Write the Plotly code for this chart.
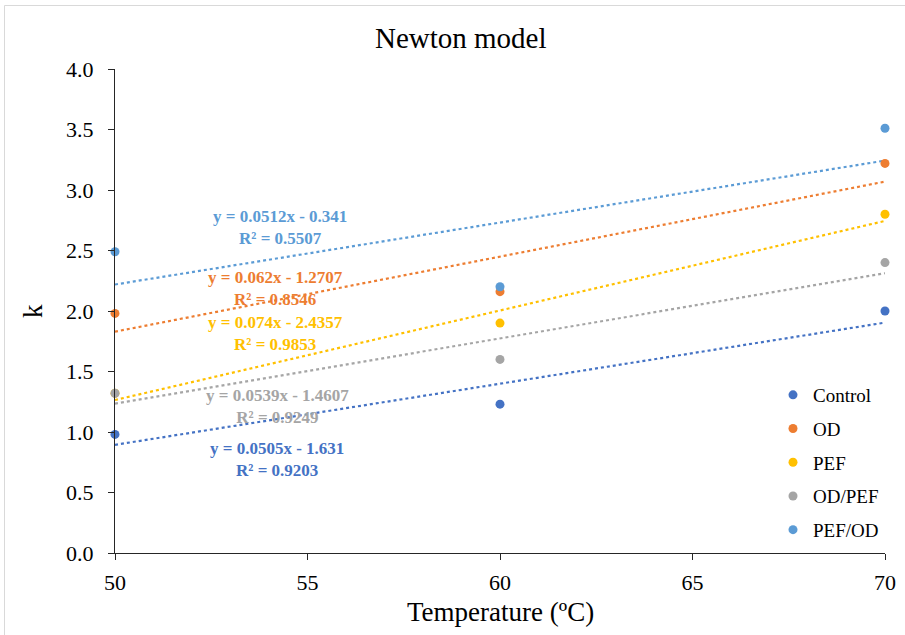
import plotly.graph_objects as go
import numpy as np

# ---- data ----
temperature = [50, 60, 70]
series_names = ["Control", "OD", "PEF", "OD/PEF", "PEF/OD"]
k_control = [0.98, 1.23, 2.00]
k_od = [1.98, 2.16, 3.22]
k_pef = [1.32, 1.90, 2.80]
k_odpef = [1.32, 1.60, 2.40]
k_pefod = [2.49, 2.20, 3.51]
slopes = [0.0505, 0.062, 0.074, 0.0539, 0.0512]
intercepts = [-1.631, -1.2707, -2.4357, -1.4607, -0.341]
r2_values = ["0.9203", "0.8546", "0.9853", "0.9249", "0.5507"]
y_ticks = [0.0, 0.5, 1.0, 1.5, 2.0, 2.5, 3.0, 3.5, 4.0]
x_ticks = [50, 55, 60, 65, 70]

colors = ["#4472C4", "#ED7D31", "#FFC000", "#A5A5A5", "#5B9BD5"]
all_k = [k_control, k_od, k_pef, k_odpef, k_pefod]
# label centre positions (data coords), styling only
label_pos = [(54.21, 0.77), (54.16, 2.19), (54.16, 1.815), (54.21, 1.21), (54.29, 2.69)]

FONT = "Liberation Serif, Times New Roman, serif"

fig = go.Figure()

# trendlines
for i, name in enumerate(series_names):
    xs = np.array([temperature[0], temperature[-1]], dtype=float)
    ys = slopes[i] * xs + intercepts[i]
    fig.add_trace(go.Scatter(
        x=xs, y=ys, mode="lines", showlegend=False, hoverinfo="skip",
        line=dict(color=colors[i], width=2.2, dash="dot"),
    ))

# data points
for i, name in enumerate(series_names):
    fig.add_trace(go.Scatter(
        x=temperature, y=all_k[i], mode="markers", name=name,
        legendgroup=name,
        marker=dict(color=colors[i], size=9),
        cliponaxis=False,
    ))

# equation labels
for i, name in enumerate(series_names):
    sign = "-" if intercepts[i] < 0 else "+"
    txt = f"y = {slopes[i]:g}x {sign} {abs(intercepts[i]):g}<br>R² = {r2_values[i]}"
    fig.add_annotation(
        x=label_pos[i][0], y=label_pos[i][1], xref="x", yref="y",
        xanchor="center", yanchor="middle",
        text=txt, showarrow=False, align="center",
        font=dict(family=FONT, size=17, color=colors[i], weight="bold"),
    )

L, R, T, B = 115, 20, 69, 82
W, H = 905, 635
pw, ph = W - L - R, H - T - B

def px_to_paper_x(px):
    return (px - L) / pw

def py_to_paper_y(py):
    return (H - B - py) / ph

# title and axis titles
fig.add_annotation(x=px_to_paper_x(461), y=py_to_paper_y(38), xref="paper", yref="paper",
                   xanchor="center", yanchor="middle",
                   text="Newton model", showarrow=False,
                   font=dict(family=FONT, size=29, color="#000000"))
fig.add_annotation(x=px_to_paper_x(500), y=py_to_paper_y(612), xref="paper", yref="paper",
                   xanchor="center", yanchor="middle",
                   text="Temperature (ºC)", showarrow=False,
                   font=dict(family=FONT, size=27, color="#000000"))
fig.add_annotation(x=px_to_paper_x(33), y=py_to_paper_y(311), xref="paper", yref="paper",
                   xanchor="center", yanchor="middle",
                   text="k", showarrow=False, textangle=-90,
                   font=dict(family=FONT, size=27, color="#000000"))

# outer border (top and left edges visible in the picture)
fig.add_shape(type="line", xref="paper", yref="paper",
              x0=px_to_paper_x(4.5), x1=px_to_paper_x(910),
              y0=py_to_paper_y(5.5), y1=py_to_paper_y(5.5),
              line=dict(color="#D9D9D9", width=1), layer="below")
fig.add_shape(type="line", xref="paper", yref="paper",
              x0=px_to_paper_x(4.5), x1=px_to_paper_x(4.5),
              y0=py_to_paper_y(5.5), y1=py_to_paper_y(640),
              line=dict(color="#D9D9D9", width=1), layer="below")

fig.update_layout(
    width=W, height=H,
    margin=dict(l=L, r=R, t=T, b=B, autoexpand=False),
    paper_bgcolor="white", plot_bgcolor="white",
    font=dict(family=FONT, color="#000000"),
    showlegend=True,
    legend=dict(
        x=px_to_paper_x(773), y=py_to_paper_y(376), xanchor="left", yanchor="top",
        font=dict(family=FONT, size=19, color="#000000"),
        tracegroupgap=6, itemwidth=30, bgcolor="rgba(0,0,0,0)",
    ),
    xaxis=dict(
        range=[50, 70], tickvals=x_ticks, ticktext=[str(v) for v in x_ticks],
        showgrid=False, zeroline=False, showline=True, linecolor="#262626", linewidth=1,
        ticks="outside", ticklen=6, tickcolor="#262626", ticklabelstandoff=4,
        tickfont=dict(family=FONT, size=22, color="#000000"),
    ),
    yaxis=dict(
        range=[0, 4], tickvals=y_ticks, ticktext=[f"{v:.1f}" for v in y_ticks],
        showgrid=False, zeroline=False, showline=True, linecolor="#262626", linewidth=1,
        ticks="outside", ticklen=6, tickcolor="#262626", ticklabelstandoff=10,
        tickfont=dict(family=FONT, size=22, color="#000000"),
    ),
)

fig.write_html("out.html", config={"displayModeBar": False},
               post_script="document.body.style.margin='0';")
